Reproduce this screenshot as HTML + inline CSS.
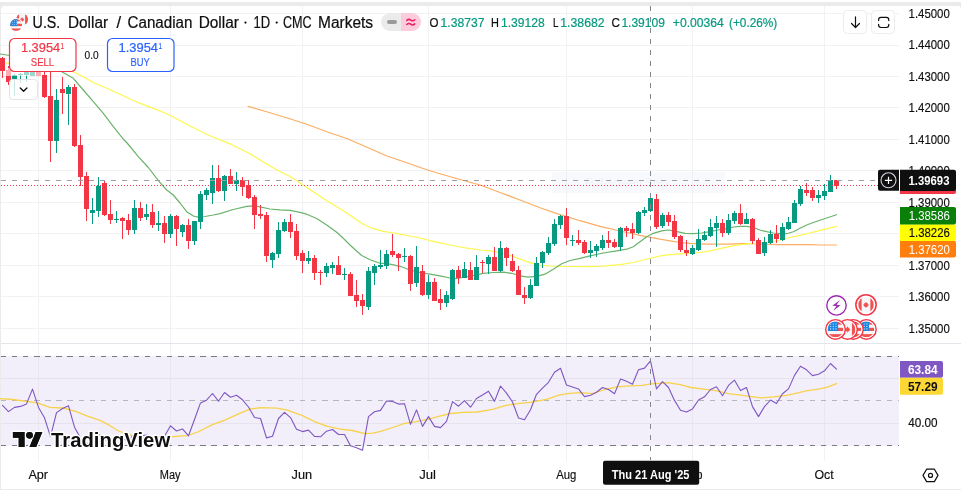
<!DOCTYPE html>
<html><head><meta charset="utf-8"><title>USDCAD chart</title>
<style>html,body{margin:0;padding:0;background:#fff;overflow:hidden}svg text{font-family:"Liberation Sans",sans-serif}</style></head>
<body>
<svg width="961" height="492" viewBox="0 0 961 492" style="display:block;will-change:transform;font-family:'Liberation Sans',sans-serif">
<rect x="0" y="0" width="961" height="492" fill="#ffffff"/>
<path d="M0 2 H961 V8.500 H960.5 Q960.5 6 958 6 H5 Q1 6 1 10 V489 H0 Z" fill="#ebebeb"/>
<rect x="0" y="489" width="961" height="1" fill="#ebebeb"/>
<g shape-rendering="crispEdges">
<rect x="1" y="356" width="898" height="90" fill="#f2eefa"/>
<rect x="38" y="6" width="1" height="337" fill="#f2f2f4"/>
<rect x="38" y="344" width="1" height="116" fill="#e9e6f0"/>
<rect x="38" y="344" width="1" height="12" fill="#f2f2f4"/>
<rect x="38" y="446" width="1" height="15" fill="#f2f2f4"/>
<rect x="170" y="6" width="1" height="337" fill="#f2f2f4"/>
<rect x="170" y="344" width="1" height="116" fill="#e9e6f0"/>
<rect x="170" y="344" width="1" height="12" fill="#f2f2f4"/>
<rect x="170" y="446" width="1" height="15" fill="#f2f2f4"/>
<rect x="302" y="6" width="1" height="337" fill="#f2f2f4"/>
<rect x="302" y="344" width="1" height="116" fill="#e9e6f0"/>
<rect x="302" y="344" width="1" height="12" fill="#f2f2f4"/>
<rect x="302" y="446" width="1" height="15" fill="#f2f2f4"/>
<rect x="428" y="6" width="1" height="337" fill="#f2f2f4"/>
<rect x="428" y="344" width="1" height="116" fill="#e9e6f0"/>
<rect x="428" y="344" width="1" height="12" fill="#f2f2f4"/>
<rect x="428" y="446" width="1" height="15" fill="#f2f2f4"/>
<rect x="566" y="6" width="1" height="337" fill="#f2f2f4"/>
<rect x="566" y="344" width="1" height="116" fill="#e9e6f0"/>
<rect x="566" y="344" width="1" height="12" fill="#f2f2f4"/>
<rect x="566" y="446" width="1" height="15" fill="#f2f2f4"/>
<rect x="692" y="6" width="1" height="337" fill="#f2f2f4"/>
<rect x="692" y="344" width="1" height="116" fill="#e9e6f0"/>
<rect x="692" y="344" width="1" height="12" fill="#f2f2f4"/>
<rect x="692" y="446" width="1" height="15" fill="#f2f2f4"/>
<rect x="824" y="6" width="1" height="337" fill="#f2f2f4"/>
<rect x="824" y="344" width="1" height="116" fill="#e9e6f0"/>
<rect x="824" y="344" width="1" height="12" fill="#f2f2f4"/>
<rect x="824" y="446" width="1" height="15" fill="#f2f2f4"/>
<rect x="1" y="13" width="898" height="1" fill="#f2f2f4"/>
<rect x="1" y="45" width="898" height="1" fill="#f2f2f4"/>
<rect x="1" y="76" width="898" height="1" fill="#f2f2f4"/>
<rect x="1" y="107" width="898" height="1" fill="#f2f2f4"/>
<rect x="1" y="139" width="898" height="1" fill="#f2f2f4"/>
<rect x="1" y="170" width="898" height="1" fill="#f2f2f4"/>
<rect x="1" y="202" width="898" height="1" fill="#f2f2f4"/>
<rect x="1" y="233" width="898" height="1" fill="#f2f2f4"/>
<rect x="1" y="265" width="898" height="1" fill="#f2f2f4"/>
<rect x="1" y="296" width="898" height="1" fill="#f2f2f4"/>
<rect x="1" y="328" width="898" height="1" fill="#f2f2f4"/>
<rect x="1" y="378" width="898" height="1" fill="#e6e2ee"/>
<rect x="1" y="423" width="898" height="1" fill="#e6e2ee"/>
<rect x="1" y="343" width="960" height="1" fill="#e4e5ea"/>
</g>
<polyline points="248.0,106.3 267.5,112.0 287.5,118.0 307.5,124.5 327.5,132.0 347.5,138.8 367.5,147.5 387.5,156.3 407.5,163.0 427.5,170.0 440.0,173.8 460.0,179.5 480.0,185.0 500.0,192.5 520.0,200.0 540.0,207.8 560.0,214.6 580.0,220.7 600.0,226.3 620.0,231.0 640.0,235.4 660.0,239.2 670.0,240.8 680.0,242.5 690.0,243.3 700.0,243.8 710.0,244.2 726.7,244.2 743.3,243.7 753.3,243.7 763.3,244.2 776.7,244.7 793.3,244.7 810.0,244.7 820.0,245.0 836.5,245.0" fill="none" stroke="#fbad63" stroke-width="1.2" stroke-linejoin="round" stroke-linecap="round" opacity="1"/>
<polyline points="5.0,63.0 30.0,66.0 60.0,69.0 73.3,71.7 83.3,76.7 93.3,82.5 106.7,88.3 120.0,94.2 133.3,100.5 146.7,105.8 160.0,110.8 172.4,116.5 190.0,126.0 208.0,135.0 230.0,143.8 250.0,153.8 270.0,166.0 280.0,171.5 290.0,176.5 303.3,185.0 313.3,191.7 326.7,200.8 333.3,204.5 343.3,210.8 353.3,217.5 363.3,224.2 373.3,228.7 383.3,231.3 393.3,233.0 400.0,234.2 410.0,236.0 420.0,238.0 430.0,240.6 440.0,242.8 450.0,245.0 460.0,247.0 470.0,248.7 480.0,250.0 490.0,250.8 498.3,252.5 506.7,254.2 513.3,256.7 520.0,259.0 526.7,261.7 533.3,263.7 540.0,265.2 550.0,266.0 560.0,266.4 570.0,266.5 586.7,266.6 603.3,266.2 620.0,264.7 633.3,262.5 643.3,260.0 653.3,257.5 663.3,255.4 673.3,254.3 680.0,253.8 690.0,253.3 700.0,252.5 710.0,250.8 720.0,248.7 730.0,246.3 740.0,244.7 750.0,243.7 760.0,243.0 770.0,242.0 780.0,240.0 790.0,237.5 800.0,235.3 810.0,233.0 820.0,230.3 836.5,226.3" fill="none" stroke="#fcf74e" stroke-width="1.25" stroke-linejoin="round" stroke-linecap="round" opacity="1"/>
<polyline points="0.0,54.0 20.0,57.0 40.0,62.0 61.8,71.8 73.3,78.3 83.3,90.0 93.3,101.7 103.3,113.3 113.3,126.7 123.3,139.2 126.7,142.5 138.3,156.7 148.3,167.5 159.2,181.7 166.7,190.0 173.3,195.0 180.0,203.0 186.7,211.7 193.3,216.0 198.3,217.2 205.0,216.5 213.3,215.0 220.0,213.6 233.3,209.5 246.7,206.3 253.3,205.9 260.0,206.8 270.0,209.0 280.0,209.9 290.0,210.3 300.0,212.3 306.7,214.2 316.7,218.5 326.7,225.0 336.7,232.3 343.0,238.0 350.0,245.0 356.0,250.5 361.7,255.5 370.0,259.8 380.0,263.2 390.0,264.2 400.0,266.3 410.0,270.0 420.0,272.5 430.0,274.2 440.0,275.8 450.0,278.0 456.0,278.4 463.3,277.5 473.3,275.5 483.3,273.3 493.3,272.5 503.3,272.2 511.7,273.3 520.0,275.8 528.3,277.2 536.7,276.3 545.0,274.2 553.3,269.2 561.7,263.7 570.0,260.5 580.0,258.4 590.0,255.8 603.3,253.0 616.7,250.8 626.7,249.2 633.3,246.7 640.0,241.7 646.7,236.7 653.3,233.3 661.7,230.8 668.3,230.0 676.0,231.3 685.0,233.3 693.3,233.7 701.7,233.0 710.0,231.7 718.3,230.0 726.7,228.7 733.3,227.0 740.0,226.3 746.7,226.3 753.3,227.5 760.0,230.0 766.7,231.7 773.3,233.0 780.0,233.7 786.7,233.7 793.3,231.7 800.0,228.3 806.7,225.0 813.3,222.5 820.0,220.3 836.5,214.7" fill="none" stroke="#6ab36a" stroke-width="1.2" stroke-linejoin="round" stroke-linecap="round" opacity="1"/>
<g shape-rendering="crispEdges">
<rect x="2" y="57" width="1" height="21" fill="#f23645"/>
<rect x="0" y="58" width="5" height="13" fill="#f23645"/>
<rect x="8" y="66" width="1" height="19" fill="#f23645"/>
<rect x="6" y="70" width="5" height="12" fill="#f23645"/>
<rect x="14" y="74" width="1" height="22" fill="#089981"/>
<rect x="12" y="75" width="5" height="4" fill="#089981"/>
<rect x="20" y="73" width="1" height="10" fill="#089981"/>
<rect x="18" y="74" width="5" height="1" fill="#089981"/>
<rect x="26" y="72" width="1" height="10" fill="#089981"/>
<rect x="24" y="72" width="5" height="3" fill="#089981"/>
<rect x="32" y="72" width="1" height="4" fill="#089981"/>
<rect x="30" y="72" width="5" height="4" fill="#089981"/>
<rect x="38" y="72" width="1" height="4" fill="#f23645"/>
<rect x="36" y="72" width="5" height="4" fill="#f23645"/>
<rect x="44" y="72" width="1" height="26" fill="#f23645"/>
<rect x="42" y="75" width="5" height="22" fill="#f23645"/>
<rect x="50" y="72" width="1" height="90" fill="#f23645"/>
<rect x="48" y="96" width="5" height="45" fill="#f23645"/>
<rect x="56" y="89" width="1" height="64" fill="#089981"/>
<rect x="54" y="100" width="5" height="41" fill="#089981"/>
<rect x="62" y="77" width="1" height="37" fill="#f23645"/>
<rect x="60" y="89" width="5" height="4" fill="#f23645"/>
<rect x="68" y="85" width="1" height="40" fill="#089981"/>
<rect x="66" y="87" width="5" height="7" fill="#089981"/>
<rect x="74" y="84" width="1" height="63" fill="#f23645"/>
<rect x="72" y="87" width="5" height="59" fill="#f23645"/>
<rect x="80" y="135" width="1" height="51" fill="#f23645"/>
<rect x="78" y="145" width="5" height="32" fill="#f23645"/>
<rect x="86" y="172" width="1" height="49" fill="#f23645"/>
<rect x="84" y="176" width="5" height="33" fill="#f23645"/>
<rect x="92" y="198" width="1" height="26" fill="#089981"/>
<rect x="90" y="210" width="5" height="3" fill="#089981"/>
<rect x="98" y="177" width="1" height="40" fill="#089981"/>
<rect x="96" y="186" width="5" height="25" fill="#089981"/>
<rect x="104" y="181" width="1" height="35" fill="#f23645"/>
<rect x="102" y="183" width="5" height="32" fill="#f23645"/>
<rect x="110" y="200" width="1" height="24" fill="#f23645"/>
<rect x="108" y="214" width="5" height="6" fill="#f23645"/>
<rect x="116" y="211" width="1" height="12" fill="#089981"/>
<rect x="114" y="219" width="5" height="1" fill="#089981"/>
<rect x="122" y="217" width="1" height="22" fill="#f23645"/>
<rect x="120" y="218" width="5" height="3" fill="#f23645"/>
<rect x="128" y="214" width="1" height="21" fill="#f23645"/>
<rect x="126" y="220" width="5" height="10" fill="#f23645"/>
<rect x="134" y="200" width="1" height="34" fill="#089981"/>
<rect x="132" y="208" width="5" height="22" fill="#089981"/>
<rect x="140" y="202" width="1" height="19" fill="#f23645"/>
<rect x="138" y="208" width="5" height="10" fill="#f23645"/>
<rect x="146" y="204" width="1" height="16" fill="#089981"/>
<rect x="144" y="214" width="5" height="3" fill="#089981"/>
<rect x="152" y="204" width="1" height="24" fill="#f23645"/>
<rect x="150" y="212" width="5" height="13" fill="#f23645"/>
<rect x="158" y="211" width="1" height="20" fill="#089981"/>
<rect x="156" y="223" width="5" height="2" fill="#089981"/>
<rect x="164" y="216" width="1" height="27" fill="#f23645"/>
<rect x="162" y="223" width="5" height="11" fill="#f23645"/>
<rect x="170" y="214" width="1" height="24" fill="#089981"/>
<rect x="168" y="216" width="5" height="18" fill="#089981"/>
<rect x="176" y="215" width="1" height="31" fill="#f23645"/>
<rect x="174" y="216" width="5" height="13" fill="#f23645"/>
<rect x="182" y="224" width="1" height="13" fill="#089981"/>
<rect x="180" y="225" width="5" height="7" fill="#089981"/>
<rect x="188" y="219" width="1" height="30" fill="#f23645"/>
<rect x="186" y="225" width="5" height="16" fill="#f23645"/>
<rect x="194" y="221" width="1" height="24" fill="#089981"/>
<rect x="192" y="221" width="5" height="20" fill="#089981"/>
<rect x="200" y="191" width="1" height="38" fill="#089981"/>
<rect x="198" y="194" width="5" height="28" fill="#089981"/>
<rect x="206" y="188" width="1" height="12" fill="#089981"/>
<rect x="204" y="190" width="5" height="5" fill="#089981"/>
<rect x="212" y="165" width="1" height="39" fill="#089981"/>
<rect x="210" y="178" width="5" height="15" fill="#089981"/>
<rect x="218" y="165" width="1" height="27" fill="#f23645"/>
<rect x="216" y="178" width="5" height="13" fill="#f23645"/>
<rect x="224" y="175" width="1" height="26" fill="#089981"/>
<rect x="222" y="176" width="5" height="15" fill="#089981"/>
<rect x="230" y="169" width="1" height="15" fill="#f23645"/>
<rect x="228" y="176" width="5" height="8" fill="#f23645"/>
<rect x="236" y="172" width="1" height="19" fill="#089981"/>
<rect x="234" y="180" width="5" height="4" fill="#089981"/>
<rect x="242" y="177" width="1" height="19" fill="#f23645"/>
<rect x="240" y="180" width="5" height="7" fill="#f23645"/>
<rect x="248" y="180" width="1" height="19" fill="#f23645"/>
<rect x="246" y="185" width="5" height="13" fill="#f23645"/>
<rect x="254" y="195" width="1" height="34" fill="#f23645"/>
<rect x="252" y="197" width="5" height="18" fill="#f23645"/>
<rect x="260" y="205" width="1" height="14" fill="#f23645"/>
<rect x="258" y="214" width="5" height="2" fill="#f23645"/>
<rect x="266" y="212" width="1" height="50" fill="#f23645"/>
<rect x="264" y="215" width="5" height="41" fill="#f23645"/>
<rect x="272" y="252" width="1" height="16" fill="#089981"/>
<rect x="270" y="253" width="5" height="7" fill="#089981"/>
<rect x="278" y="222" width="1" height="36" fill="#089981"/>
<rect x="276" y="230" width="5" height="24" fill="#089981"/>
<rect x="284" y="219" width="1" height="13" fill="#089981"/>
<rect x="282" y="222" width="5" height="9" fill="#089981"/>
<rect x="290" y="214" width="1" height="24" fill="#f23645"/>
<rect x="288" y="222" width="5" height="10" fill="#f23645"/>
<rect x="296" y="224" width="1" height="36" fill="#f23645"/>
<rect x="294" y="231" width="5" height="25" fill="#f23645"/>
<rect x="302" y="250" width="1" height="23" fill="#f23645"/>
<rect x="300" y="253" width="5" height="8" fill="#f23645"/>
<rect x="308" y="251" width="1" height="13" fill="#089981"/>
<rect x="306" y="258" width="5" height="3" fill="#089981"/>
<rect x="314" y="255" width="1" height="25" fill="#f23645"/>
<rect x="312" y="258" width="5" height="15" fill="#f23645"/>
<rect x="320" y="270" width="1" height="15" fill="#f23645"/>
<rect x="318" y="272" width="5" height="1" fill="#f23645"/>
<rect x="326" y="263" width="1" height="14" fill="#089981"/>
<rect x="324" y="266" width="5" height="7" fill="#089981"/>
<rect x="332" y="262" width="1" height="12" fill="#089981"/>
<rect x="330" y="265" width="5" height="3" fill="#089981"/>
<rect x="338" y="256" width="1" height="19" fill="#f23645"/>
<rect x="336" y="265" width="5" height="10" fill="#f23645"/>
<rect x="344" y="268" width="1" height="12" fill="#089981"/>
<rect x="342" y="274" width="5" height="1" fill="#089981"/>
<rect x="350" y="272" width="1" height="24" fill="#f23645"/>
<rect x="348" y="274" width="5" height="22" fill="#f23645"/>
<rect x="356" y="280" width="1" height="27" fill="#f23645"/>
<rect x="354" y="295" width="5" height="6" fill="#f23645"/>
<rect x="362" y="294" width="1" height="21" fill="#f23645"/>
<rect x="360" y="300" width="5" height="6" fill="#f23645"/>
<rect x="368" y="267" width="1" height="43" fill="#089981"/>
<rect x="366" y="271" width="5" height="36" fill="#089981"/>
<rect x="374" y="264" width="1" height="21" fill="#089981"/>
<rect x="372" y="266" width="5" height="7" fill="#089981"/>
<rect x="380" y="250" width="1" height="19" fill="#089981"/>
<rect x="378" y="265" width="5" height="2" fill="#089981"/>
<rect x="386" y="250" width="1" height="19" fill="#089981"/>
<rect x="384" y="254" width="5" height="12" fill="#089981"/>
<rect x="392" y="234" width="1" height="23" fill="#f23645"/>
<rect x="390" y="251" width="5" height="4" fill="#f23645"/>
<rect x="398" y="253" width="1" height="18" fill="#f23645"/>
<rect x="396" y="254" width="5" height="4" fill="#f23645"/>
<rect x="404" y="248" width="1" height="14" fill="#089981"/>
<rect x="402" y="256" width="5" height="1" fill="#089981"/>
<rect x="410" y="255" width="1" height="36" fill="#f23645"/>
<rect x="408" y="256" width="5" height="28" fill="#f23645"/>
<rect x="416" y="246" width="1" height="41" fill="#089981"/>
<rect x="414" y="267" width="5" height="16" fill="#089981"/>
<rect x="422" y="265" width="1" height="31" fill="#f23645"/>
<rect x="420" y="271" width="5" height="24" fill="#f23645"/>
<rect x="428" y="275" width="1" height="24" fill="#089981"/>
<rect x="426" y="282" width="5" height="13" fill="#089981"/>
<rect x="434" y="278" width="1" height="23" fill="#f23645"/>
<rect x="432" y="282" width="5" height="19" fill="#f23645"/>
<rect x="440" y="289" width="1" height="21" fill="#f23645"/>
<rect x="438" y="299" width="5" height="4" fill="#f23645"/>
<rect x="446" y="291" width="1" height="16" fill="#089981"/>
<rect x="444" y="295" width="5" height="8" fill="#089981"/>
<rect x="452" y="269" width="1" height="31" fill="#089981"/>
<rect x="450" y="270" width="5" height="29" fill="#089981"/>
<rect x="458" y="266" width="1" height="18" fill="#f23645"/>
<rect x="456" y="270" width="5" height="8" fill="#f23645"/>
<rect x="464" y="262" width="1" height="16" fill="#089981"/>
<rect x="462" y="269" width="5" height="9" fill="#089981"/>
<rect x="470" y="262" width="1" height="18" fill="#f23645"/>
<rect x="468" y="270" width="5" height="10" fill="#f23645"/>
<rect x="476" y="255" width="1" height="25" fill="#089981"/>
<rect x="474" y="267" width="5" height="13" fill="#089981"/>
<rect x="482" y="260" width="1" height="13" fill="#f23645"/>
<rect x="480" y="262" width="5" height="1" fill="#f23645"/>
<rect x="488" y="255" width="1" height="19" fill="#089981"/>
<rect x="486" y="257" width="5" height="7" fill="#089981"/>
<rect x="494" y="247" width="1" height="24" fill="#f23645"/>
<rect x="492" y="257" width="5" height="14" fill="#f23645"/>
<rect x="500" y="241" width="1" height="31" fill="#089981"/>
<rect x="498" y="248" width="5" height="23" fill="#089981"/>
<rect x="506" y="247" width="1" height="19" fill="#f23645"/>
<rect x="504" y="248" width="5" height="10" fill="#f23645"/>
<rect x="512" y="254" width="1" height="18" fill="#f23645"/>
<rect x="510" y="261" width="5" height="10" fill="#f23645"/>
<rect x="518" y="266" width="1" height="29" fill="#f23645"/>
<rect x="516" y="270" width="5" height="25" fill="#f23645"/>
<rect x="524" y="287" width="1" height="17" fill="#f23645"/>
<rect x="522" y="295" width="5" height="3" fill="#f23645"/>
<rect x="530" y="279" width="1" height="20" fill="#089981"/>
<rect x="528" y="285" width="5" height="13" fill="#089981"/>
<rect x="536" y="257" width="1" height="29" fill="#089981"/>
<rect x="534" y="263" width="5" height="23" fill="#089981"/>
<rect x="542" y="251" width="1" height="17" fill="#089981"/>
<rect x="540" y="252" width="5" height="11" fill="#089981"/>
<rect x="548" y="237" width="1" height="18" fill="#089981"/>
<rect x="546" y="243" width="5" height="10" fill="#089981"/>
<rect x="554" y="219" width="1" height="27" fill="#089981"/>
<rect x="552" y="224" width="5" height="20" fill="#089981"/>
<rect x="560" y="215" width="1" height="14" fill="#089981"/>
<rect x="558" y="216" width="5" height="9" fill="#089981"/>
<rect x="566" y="208" width="1" height="37" fill="#f23645"/>
<rect x="564" y="216" width="5" height="22" fill="#f23645"/>
<rect x="572" y="235" width="1" height="11" fill="#089981"/>
<rect x="570" y="240" width="5" height="1" fill="#089981"/>
<rect x="578" y="230" width="1" height="15" fill="#f23645"/>
<rect x="576" y="240" width="5" height="3" fill="#f23645"/>
<rect x="584" y="240" width="1" height="14" fill="#f23645"/>
<rect x="582" y="242" width="5" height="11" fill="#f23645"/>
<rect x="590" y="241" width="1" height="17" fill="#089981"/>
<rect x="588" y="250" width="5" height="3" fill="#089981"/>
<rect x="596" y="244" width="1" height="13" fill="#089981"/>
<rect x="594" y="246" width="5" height="5" fill="#089981"/>
<rect x="602" y="235" width="1" height="15" fill="#089981"/>
<rect x="600" y="240" width="5" height="8" fill="#089981"/>
<rect x="608" y="231" width="1" height="17" fill="#f23645"/>
<rect x="606" y="240" width="5" height="3" fill="#f23645"/>
<rect x="614" y="239" width="1" height="9" fill="#f23645"/>
<rect x="612" y="242" width="5" height="5" fill="#f23645"/>
<rect x="620" y="227" width="1" height="24" fill="#089981"/>
<rect x="618" y="228" width="5" height="19" fill="#089981"/>
<rect x="626" y="226" width="1" height="11" fill="#f23645"/>
<rect x="624" y="228" width="5" height="3" fill="#f23645"/>
<rect x="632" y="223" width="1" height="16" fill="#f23645"/>
<rect x="630" y="229" width="5" height="4" fill="#f23645"/>
<rect x="638" y="211" width="1" height="23" fill="#089981"/>
<rect x="636" y="212" width="5" height="21" fill="#089981"/>
<rect x="644" y="207" width="1" height="9" fill="#089981"/>
<rect x="642" y="210" width="5" height="3" fill="#089981"/>
<rect x="650" y="193" width="1" height="19" fill="#089981"/>
<rect x="648" y="198" width="5" height="13" fill="#089981"/>
<rect x="656" y="194" width="1" height="35" fill="#f23645"/>
<rect x="654" y="199" width="5" height="28" fill="#f23645"/>
<rect x="662" y="213" width="1" height="15" fill="#089981"/>
<rect x="660" y="215" width="5" height="11" fill="#089981"/>
<rect x="668" y="212" width="1" height="14" fill="#f23645"/>
<rect x="666" y="215" width="5" height="7" fill="#f23645"/>
<rect x="674" y="215" width="1" height="24" fill="#f23645"/>
<rect x="672" y="221" width="5" height="16" fill="#f23645"/>
<rect x="680" y="235" width="1" height="17" fill="#f23645"/>
<rect x="678" y="236" width="5" height="14" fill="#f23645"/>
<rect x="686" y="240" width="1" height="16" fill="#f23645"/>
<rect x="684" y="250" width="5" height="3" fill="#f23645"/>
<rect x="692" y="245" width="1" height="10" fill="#089981"/>
<rect x="690" y="248" width="5" height="6" fill="#089981"/>
<rect x="698" y="229" width="1" height="22" fill="#089981"/>
<rect x="696" y="239" width="5" height="11" fill="#089981"/>
<rect x="704" y="231" width="1" height="10" fill="#089981"/>
<rect x="702" y="235" width="5" height="5" fill="#089981"/>
<rect x="710" y="219" width="1" height="18" fill="#089981"/>
<rect x="708" y="227" width="5" height="9" fill="#089981"/>
<rect x="716" y="216" width="1" height="31" fill="#089981"/>
<rect x="714" y="223" width="5" height="5" fill="#089981"/>
<rect x="722" y="219" width="1" height="18" fill="#f23645"/>
<rect x="720" y="223" width="5" height="10" fill="#f23645"/>
<rect x="728" y="214" width="1" height="21" fill="#089981"/>
<rect x="726" y="220" width="5" height="13" fill="#089981"/>
<rect x="734" y="211" width="1" height="13" fill="#089981"/>
<rect x="732" y="213" width="5" height="8" fill="#089981"/>
<rect x="740" y="204" width="1" height="21" fill="#f23645"/>
<rect x="738" y="213" width="5" height="11" fill="#f23645"/>
<rect x="746" y="213" width="1" height="11" fill="#089981"/>
<rect x="744" y="219" width="5" height="5" fill="#089981"/>
<rect x="752" y="218" width="1" height="26" fill="#f23645"/>
<rect x="750" y="219" width="5" height="22" fill="#f23645"/>
<rect x="758" y="238" width="1" height="16" fill="#f23645"/>
<rect x="756" y="240" width="5" height="14" fill="#f23645"/>
<rect x="764" y="237" width="1" height="19" fill="#089981"/>
<rect x="762" y="242" width="5" height="11" fill="#089981"/>
<rect x="770" y="230" width="1" height="14" fill="#089981"/>
<rect x="768" y="234" width="5" height="9" fill="#089981"/>
<rect x="776" y="225" width="1" height="18" fill="#f23645"/>
<rect x="774" y="234" width="5" height="5" fill="#f23645"/>
<rect x="782" y="223" width="1" height="18" fill="#089981"/>
<rect x="780" y="227" width="5" height="13" fill="#089981"/>
<rect x="788" y="217" width="1" height="13" fill="#089981"/>
<rect x="786" y="222" width="5" height="7" fill="#089981"/>
<rect x="794" y="200" width="1" height="23" fill="#089981"/>
<rect x="792" y="203" width="5" height="20" fill="#089981"/>
<rect x="800" y="186" width="1" height="20" fill="#089981"/>
<rect x="798" y="189" width="5" height="15" fill="#089981"/>
<rect x="806" y="183" width="1" height="13" fill="#f23645"/>
<rect x="804" y="190" width="5" height="3" fill="#f23645"/>
<rect x="812" y="187" width="1" height="14" fill="#f23645"/>
<rect x="810" y="190" width="5" height="8" fill="#f23645"/>
<rect x="818" y="190" width="1" height="13" fill="#089981"/>
<rect x="816" y="195" width="5" height="3" fill="#089981"/>
<rect x="824" y="184" width="1" height="16" fill="#089981"/>
<rect x="822" y="191" width="5" height="5" fill="#089981"/>
<rect x="830" y="175" width="1" height="17" fill="#089981"/>
<rect x="828" y="180" width="5" height="12" fill="#089981"/>
<rect x="836" y="180" width="1" height="9" fill="#f23645"/>
<rect x="834" y="180" width="5" height="6" fill="#f23645"/>
</g>
<rect x="552" y="172" width="173" height="21" fill="#e4e9f5" opacity="0.28"/>
<text x="585" y="187" font-size="12.5" fill="#eff1f6" textLength="83" lengthAdjust="spacingAndGlyphs">Full-screen Snip</text>
<g shape-rendering="crispEdges">
<line x1="1" y1="356.5" x2="899" y2="356.5" stroke="#787b86" stroke-width="1" stroke-dasharray="5.3 5.777"/>
<line x1="1" y1="400.5" x2="899" y2="400.5" stroke="#b4b5bd" stroke-width="1" stroke-dasharray="5.3 5.777"/>
<line x1="1" y1="445.5" x2="899" y2="445.5" stroke="#787b86" stroke-width="1" stroke-dasharray="5.3 5.777"/>
</g>
<polyline points="0.0,398.7 12.5,399.5 25.0,401.2 37.5,402.9 50.0,407.4 62.4,408.0 75.0,411.2 87.4,416.2 100.0,420.4 108.3,424.7 118.7,431.0 130.0,435.0 145.0,437.5 160.0,437.5 172.8,436.6 187.4,435.6 197.8,432.0 212.4,424.7 224.9,420.2 237.4,414.3 249.8,409.1 260.2,407.7 276.9,408.1 287.3,410.2 302.5,415.6 315.0,421.8 327.5,426.4 340.0,429.1 352.4,430.5 364.9,433.7 373.2,433.2 381.6,431.2 394.0,427.0 404.5,423.3 414.9,421.8 427.4,419.3 439.8,416.2 450.2,413.5 462.7,412.4 477.3,412.0 492.5,409.3 505.0,405.6 517.5,403.7 530.0,402.4 546.6,399.3 559.1,395.2 567.4,393.7 579.9,392.7 592.4,393.7 604.9,389.5 617.4,386.8 629.8,385.8 642.3,385.4 650.7,383.9 659.0,383.3 667.3,382.7 680.4,384.6 690.8,387.5 703.3,389.1 715.8,390.6 728.3,393.7 740.8,395.2 753.2,396.8 761.6,397.9 774.0,396.8 786.5,395.4 799.0,392.7 807.4,390.6 819.8,388.9 828.2,386.8 836.5,383.7" fill="none" stroke="#f7d24a" stroke-width="1.3" stroke-linejoin="round" stroke-linecap="round" opacity="1"/>
<polyline points="2.5,405.4 8.5,411.6 14.5,407.4 20.5,406.4 26.5,403.9 32.5,389.1 38.5,407.4 44.5,417.8 50.5,436.6 56.5,412.6 62.5,408.5 68.5,405.8 74.5,427.2 80.5,438.0 86.5,444.0 92.5,441.0 98.5,434.0 104.5,440.0 110.5,439.0 116.5,437.0 122.5,439.0 128.5,441.0 134.5,433.0 140.5,436.0 146.5,435.0 152.5,438.0 158.5,437.0 164.5,436.2 170.5,425.8 176.5,431.0 182.5,428.9 188.5,435.8 194.5,419.5 200.5,402.9 206.5,400.2 212.5,393.5 218.5,401.2 224.5,392.5 230.5,397.3 236.5,395.2 242.5,399.8 248.5,407.0 254.5,417.5 260.5,418.5 266.5,437.9 272.5,436.2 278.5,418.5 284.5,412.3 290.5,417.6 296.5,429.2 302.5,431.6 308.5,430.1 314.5,436.4 320.5,436.8 326.5,431.2 332.5,429.5 338.5,434.5 344.5,434.5 350.5,445.7 356.5,447.8 362.5,450.3 368.5,416.6 374.5,411.8 380.5,410.4 386.5,401.0 392.5,401.4 398.5,404.1 404.5,403.7 410.5,424.3 416.5,409.9 422.5,426.4 428.5,416.6 434.5,426.4 440.5,427.6 446.5,421.4 452.5,401.6 458.5,406.2 464.5,400.6 470.5,407.2 476.5,398.5 482.5,395.0 488.5,391.2 494.5,401.4 500.5,386.0 506.5,393.1 512.5,402.0 518.5,418.0 524.5,419.7 530.5,409.7 536.5,394.3 542.5,388.1 548.5,382.3 554.5,372.3 560.5,368.3 566.5,385.0 572.5,387.0 578.5,388.9 584.5,396.6 590.5,395.2 596.5,392.2 602.5,387.5 608.5,389.5 614.5,393.7 620.5,379.1 626.5,381.2 632.5,384.3 638.5,369.8 644.5,368.1 650.5,360.8 656.5,388.9 662.5,381.6 668.5,387.5 674.5,400.4 680.5,410.2 686.5,412.0 692.5,408.9 698.5,400.0 704.5,396.8 710.5,389.5 716.5,386.8 722.5,395.8 728.5,385.4 734.5,380.2 740.5,390.6 746.5,387.5 752.5,406.6 758.5,416.6 764.5,406.6 770.5,400.0 776.5,403.5 782.5,393.7 788.5,388.9 794.5,375.4 800.5,366.2 806.5,369.8 812.5,375.6 818.5,374.3 824.5,370.8 830.5,363.5 836.5,369.2" fill="none" stroke="#7e57c2" stroke-width="1.1" stroke-linejoin="round" stroke-linecap="round" opacity="1"/>
<g shape-rendering="crispEdges">
<line x1="1" y1="185.5" x2="878" y2="185.5" stroke="#f23645" stroke-width="1" stroke-dasharray="1 2"/>
<line x1="1" y1="180.5" x2="878" y2="180.5" stroke="#9d9fa6" stroke-width="1" stroke-dasharray="5 6"/>
<line x1="650.5" y1="6" x2="650.5" y2="460" stroke="#85878f" stroke-width="1" stroke-dasharray="5 6"/>
</g>
<rect x="6" y="68" width="36" height="8" fill="#ffffff" opacity="0.6"/>
<rect x="9.5" y="79.5" width="28" height="20" rx="3" fill="#ffffff" fill-opacity="0.8" stroke="#e4e4e8" stroke-width="1"/>
<path d="M20.3 88.1 L23.6 91.2 L26.9 88.1" fill="none" stroke="#0f0f0f" stroke-width="1.4" stroke-linecap="round" stroke-linejoin="round"/>
<clipPath id="cf1"><circle cx="22.1" cy="19.5" r="6"/></clipPath>
<g clip-path="url(#cf1)"><rect x="16.1" y="13.5" width="12" height="12" fill="#f5f6fa"/><rect x="16.10" y="13.5" width="3.00" height="12" fill="#ef5350"/><rect x="25.10" y="13.5" width="3.00" height="12" fill="#ef5350"/><path d="M22.10 17.10 l0.77 1.32 l0.79 -0.43 l-0.24 1.32 l1.08 0.05 l-1.49 1.80 l-0.72 0 l0 0.72 l-0.38 0 l0 -0.72 l-0.72 0 l-1.49 -1.80 l1.08 -0.05 l-0.24 -1.32 l0.79 0.43 Z" fill="#ef5350"/></g>
<circle cx="16.1" cy="24.9" r="7" fill="#ffffff"/>
<clipPath id="uf1"><circle cx="16.1" cy="24.9" r="6"/></clipPath>
<g clip-path="url(#uf1)"><rect x="10.100000000000001" y="18.9" width="12" height="12" fill="#f5f6fa"/><rect x="10.100000000000001" y="18.90" width="12" height="2.40" fill="#ef5350"/><rect x="10.100000000000001" y="23.70" width="12" height="2.40" fill="#ef5350"/><rect x="10.100000000000001" y="28.50" width="12" height="2.40" fill="#ef5350"/><rect x="10.100000000000001" y="18.9" width="6.96" height="7.20" fill="#1e88e5"/><circle cx="12.38" cy="20.82" r="0.45" fill="#e3f2fd"/><circle cx="12.38" cy="22.69" r="0.45" fill="#e3f2fd"/><circle cx="12.38" cy="24.56" r="0.45" fill="#e3f2fd"/><circle cx="14.42" cy="20.82" r="0.45" fill="#e3f2fd"/><circle cx="14.42" cy="22.69" r="0.45" fill="#e3f2fd"/><circle cx="14.42" cy="24.56" r="0.45" fill="#e3f2fd"/><circle cx="16.46" cy="20.82" r="0.45" fill="#e3f2fd"/><circle cx="16.46" cy="22.69" r="0.45" fill="#e3f2fd"/><circle cx="16.46" cy="24.56" r="0.45" fill="#e3f2fd"/></g>
<text x="32.6" y="28.2" font-size="16" fill="#0f0f0f" font-weight="normal" text-anchor="start" textLength="27.7" lengthAdjust="spacingAndGlyphs"  stroke="#0f0f0f" stroke-width="0.22">U.S.</text>
<text x="68" y="28.2" font-size="16" fill="#0f0f0f" font-weight="normal" text-anchor="start" textLength="40.1" lengthAdjust="spacingAndGlyphs"  stroke="#0f0f0f" stroke-width="0.22">Dollar</text>
<text x="116.4" y="28.2" font-size="16" fill="#0f0f0f" font-weight="normal" text-anchor="start" textLength="4.6" lengthAdjust="spacingAndGlyphs"  stroke="#0f0f0f" stroke-width="0.22">/</text>
<text x="127.5" y="28.2" font-size="16" fill="#0f0f0f" font-weight="normal" text-anchor="start" textLength="64.9" lengthAdjust="spacingAndGlyphs"  stroke="#0f0f0f" stroke-width="0.22">Canadian</text>
<text x="198.7" y="28.2" font-size="16" fill="#0f0f0f" font-weight="normal" text-anchor="start" textLength="40.2" lengthAdjust="spacingAndGlyphs"  stroke="#0f0f0f" stroke-width="0.22">Dollar</text>
<circle cx="245.5" cy="22.6" r="1.1" fill="#0f0f0f"/>
<text x="253.5" y="28.2" font-size="16" fill="#0f0f0f" font-weight="normal" text-anchor="start" textLength="16.6" lengthAdjust="spacingAndGlyphs"  stroke="#0f0f0f" stroke-width="0.22">1D</text>
<circle cx="276.7" cy="22.6" r="1.1" fill="#0f0f0f"/>
<text x="283" y="28.2" font-size="16" fill="#0f0f0f" font-weight="normal" text-anchor="start" textLength="28.7" lengthAdjust="spacingAndGlyphs"  stroke="#0f0f0f" stroke-width="0.22">CMC</text>
<text x="318" y="28.2" font-size="16" fill="#0f0f0f" font-weight="normal" text-anchor="start" textLength="55.1" lengthAdjust="spacingAndGlyphs"  stroke="#0f0f0f" stroke-width="0.22">Markets</text>
<clipPath id="pill"><rect x="381" y="13" width="40" height="18" rx="9"/></clipPath>
<g clip-path="url(#pill)"><rect x="381" y="13" width="20" height="18" fill="#ebebeb"/><rect x="401" y="13" width="20" height="18" fill="#fccbdc"/></g>
<rect x="387" y="20" width="10" height="4" rx="2" fill="#9a9a9a"/>
<path d="M406.8 20.4 q2 -1.900 4 -0.3 t4 -0.3 M406.8 24.5 q2 -1.900 4 -0.3 t4 -0.3" fill="none" stroke="#e91e63" stroke-width="1.5" stroke-linecap="round"/>
<text x="429.6" y="27.1" font-size="13" fill="#0f0f0f" font-weight="normal" text-anchor="start" textLength="9.0" lengthAdjust="spacingAndGlyphs"  stroke="#0f0f0f" stroke-width="0.22">O</text>
<text x="440.6" y="27.1" font-size="13" fill="#089981" font-weight="normal" text-anchor="start" textLength="43.8" lengthAdjust="spacingAndGlyphs"  stroke="#089981" stroke-width="0.22">1.38737</text>
<text x="491" y="27.1" font-size="13" fill="#0f0f0f" font-weight="normal" text-anchor="start" textLength="7.9" lengthAdjust="spacingAndGlyphs"  stroke="#0f0f0f" stroke-width="0.22">H</text>
<text x="501" y="27.1" font-size="13" fill="#089981" font-weight="normal" text-anchor="start" textLength="43.7" lengthAdjust="spacingAndGlyphs"  stroke="#089981" stroke-width="0.22">1.39128</text>
<text x="553" y="27.1" font-size="13" fill="#0f0f0f" font-weight="normal" text-anchor="start" textLength="5.4" lengthAdjust="spacingAndGlyphs"  stroke="#0f0f0f" stroke-width="0.22">L</text>
<text x="560.3" y="27.1" font-size="13" fill="#089981" font-weight="normal" text-anchor="start" textLength="44.3" lengthAdjust="spacingAndGlyphs"  stroke="#089981" stroke-width="0.22">1.38682</text>
<text x="611.4" y="27.1" font-size="13" fill="#0f0f0f" font-weight="normal" text-anchor="start" textLength="8.4" lengthAdjust="spacingAndGlyphs"  stroke="#0f0f0f" stroke-width="0.22">C</text>
<text x="621.4" y="27.1" font-size="13" fill="#089981" font-weight="normal" text-anchor="start" textLength="43.5" lengthAdjust="spacingAndGlyphs"  stroke="#089981" stroke-width="0.22">1.39109</text>
<text x="672.8" y="27.1" font-size="13" fill="#089981" font-weight="normal" text-anchor="start" textLength="51.0" lengthAdjust="spacingAndGlyphs"  stroke="#089981" stroke-width="0.22">+0.00364</text>
<text x="729" y="27.1" font-size="13" fill="#089981" font-weight="normal" text-anchor="start" textLength="48.3" lengthAdjust="spacingAndGlyphs"  stroke="#089981" stroke-width="0.22">(+0.26%)</text>
<rect x="9.5" y="38.5" width="66.5" height="33" rx="5" fill="#ffffff" stroke="#f23645" stroke-width="1.2"/>
<text x="20.9" y="52.2" font-size="13" fill="#f23645" font-weight="normal" text-anchor="start" textLength="39.3" lengthAdjust="spacingAndGlyphs"  stroke="#f23645" stroke-width="0.22">1.3954</text>
<text x="60.6" y="49.0" font-size="9" fill="#f23645" font-weight="normal" text-anchor="start" textLength="3.6" lengthAdjust="spacingAndGlyphs"  stroke="#f23645" stroke-width="0.15">1</text>
<text x="30.8" y="65.5" font-size="11" fill="#f23645" font-weight="normal" text-anchor="start" textLength="23.4" lengthAdjust="spacingAndGlyphs"  stroke="#f23645" stroke-width="0.15">SELL</text>
<text x="84.5" y="58.6" font-size="11" fill="#0f0f0f" font-weight="normal" text-anchor="start" textLength="14.1" lengthAdjust="spacingAndGlyphs"  stroke="#0f0f0f" stroke-width="0.15">0.0</text>
<rect x="107.5" y="38.5" width="66.5" height="33" rx="5" fill="#ffffff" stroke="#2962ff" stroke-width="1.2"/>
<text x="118.6" y="52.2" font-size="13" fill="#2962ff" font-weight="normal" text-anchor="start" textLength="39.4" lengthAdjust="spacingAndGlyphs"  stroke="#2962ff" stroke-width="0.22">1.3954</text>
<text x="158.4" y="49.0" font-size="9" fill="#2962ff" font-weight="normal" text-anchor="start" textLength="3.6" lengthAdjust="spacingAndGlyphs"  stroke="#2962ff" stroke-width="0.15">1</text>
<text x="130.4" y="65.5" font-size="11" fill="#2962ff" font-weight="normal" text-anchor="start" textLength="19.3" lengthAdjust="spacingAndGlyphs"  stroke="#2962ff" stroke-width="0.15">BUY</text>
<rect x="843.5" y="10.5" width="23" height="23" rx="4" fill="#ffffff" stroke="#ececee" stroke-width="1"/>
<rect x="871.5" y="10.5" width="23" height="23" rx="4" fill="#ffffff" stroke="#ececee" stroke-width="1"/>
<path d="M855.5 16.8 V27.3 M851.5 23.5 L855.5 27.5 L859.5 23.5" fill="none" stroke="#0f0f0f" stroke-width="1.2" stroke-linecap="round" stroke-linejoin="round"/>
<path d="M878.6 20.6 V19.8 Q878.6 17.4 881 17.4 H886.4 Q888.8 17.4 888.8 19.800 V20.6 M878.6 24.3 V25.1 Q878.6 27.5 881 27.5 H886.4 Q888.8 27.5 888.8 25.1 V24.3" fill="none" stroke="#0f0f0f" stroke-width="1.2" stroke-linecap="round"/>
<text x="908.6" y="17.7" font-size="12" fill="#0f0f0f" font-weight="normal" text-anchor="start" textLength="41.2" lengthAdjust="spacingAndGlyphs"  stroke="#0f0f0f" stroke-width="0.15">1.45000</text>
<text x="908.6" y="49.2" font-size="12" fill="#0f0f0f" font-weight="normal" text-anchor="start" textLength="41.2" lengthAdjust="spacingAndGlyphs"  stroke="#0f0f0f" stroke-width="0.15">1.44000</text>
<text x="908.6" y="80.7" font-size="12" fill="#0f0f0f" font-weight="normal" text-anchor="start" textLength="41.2" lengthAdjust="spacingAndGlyphs"  stroke="#0f0f0f" stroke-width="0.15">1.43000</text>
<text x="908.6" y="112.2" font-size="12" fill="#0f0f0f" font-weight="normal" text-anchor="start" textLength="41.2" lengthAdjust="spacingAndGlyphs"  stroke="#0f0f0f" stroke-width="0.15">1.42000</text>
<text x="908.6" y="143.7" font-size="12" fill="#0f0f0f" font-weight="normal" text-anchor="start" textLength="41.2" lengthAdjust="spacingAndGlyphs"  stroke="#0f0f0f" stroke-width="0.15">1.41000</text>
<text x="908.6" y="175.2" font-size="12" fill="#0f0f0f" font-weight="normal" text-anchor="start" textLength="41.2" lengthAdjust="spacingAndGlyphs"  stroke="#0f0f0f" stroke-width="0.15">1.40000</text>
<text x="908.6" y="206.7" font-size="12" fill="#0f0f0f" font-weight="normal" text-anchor="start" textLength="41.2" lengthAdjust="spacingAndGlyphs"  stroke="#0f0f0f" stroke-width="0.15">1.39000</text>
<text x="908.6" y="238.2" font-size="12" fill="#0f0f0f" font-weight="normal" text-anchor="start" textLength="41.2" lengthAdjust="spacingAndGlyphs"  stroke="#0f0f0f" stroke-width="0.15">1.38000</text>
<text x="908.6" y="269.7" font-size="12" fill="#0f0f0f" font-weight="normal" text-anchor="start" textLength="41.2" lengthAdjust="spacingAndGlyphs"  stroke="#0f0f0f" stroke-width="0.15">1.37000</text>
<text x="908.6" y="301.2" font-size="12" fill="#0f0f0f" font-weight="normal" text-anchor="start" textLength="41.2" lengthAdjust="spacingAndGlyphs"  stroke="#0f0f0f" stroke-width="0.15">1.36000</text>
<text x="908.6" y="332.7" font-size="12" fill="#0f0f0f" font-weight="normal" text-anchor="start" textLength="41.2" lengthAdjust="spacingAndGlyphs"  stroke="#0f0f0f" stroke-width="0.15">1.35000</text>
<text x="908.2" y="427.0" font-size="12" fill="#0f0f0f" font-weight="normal" text-anchor="start" textLength="29.4" lengthAdjust="spacingAndGlyphs"  stroke="#0f0f0f" stroke-width="0.15">40.00</text>
<path d="M900 240.7 H954 Q956 240.7 956 242.7 V255.5 Q956 257.5 954 257.5 H900 Z" fill="#ff7f0e"/>
<text x="908.7" y="253.5" font-size="12" fill="#ffffff" font-weight="normal" text-anchor="start" textLength="41.2" lengthAdjust="spacingAndGlyphs" >1.37620</text>
<path d="M900 224.2 H954 Q956 224.2 956 226.2 V238.9 Q956 240.9 954 240.9 H900 Z" fill="#ffff00"/>
<text x="908.7" y="237.0" font-size="12" fill="#0f0f0f" font-weight="normal" text-anchor="start" textLength="41.2" lengthAdjust="spacingAndGlyphs"  stroke="#0f0f0f" stroke-width="0.15">1.38226</text>
<path d="M900 207.1 H954 Q956 207.1 956 209.1 V222.4 Q956 224.4 954 224.4 H900 Z" fill="#0a800a"/>
<text x="908.7" y="220.2" font-size="12" fill="#ffffff" font-weight="normal" text-anchor="start" textLength="41.2" lengthAdjust="spacingAndGlyphs" >1.38586</text>
<path d="M900 175 H954 Q956 175 956 177 V192 Q956 194 954 194 H900 Z" fill="#f23645"/>
<text x="908.7" y="188.9" font-size="12" fill="#ffffff" font-weight="normal" text-anchor="start" textLength="41.2" lengthAdjust="spacingAndGlyphs" ></text>
<path d="M900 169.8 H954 Q956 169.8 956 171.8 V188.9 Q956 190.9 954 190.9 H900 Z" fill="#0f0f0f"/>
<text x="908.5" y="184.8" font-size="12" fill="#ffffff" font-weight="bold" text-anchor="start" textLength="41.0" lengthAdjust="spacingAndGlyphs" >1.39693</text>
<path d="M880 169.8 H899 V190.7 H880 Q878 190.7 878 188.7 V171.8 Q878 169.8 880 169.8 Z" fill="#0f0f0f"/>
<circle cx="888.5" cy="180.3" r="7.5" fill="none" stroke="#d1d4dc" stroke-width="1.1"/>
<path d="M884.9 180.3 H892.1 M888.5 176.7 V183.9" stroke="#ffffff" stroke-width="1.2" fill="none"/>
<path d="M900 361 H941 Q943 361 943 363 V375.8 Q943 377.8 941 377.8 H900 Z" fill="#7e57c2"/>
<text x="907.9" y="373.8" font-size="12" fill="#ffffff" font-weight="bold" text-anchor="start" textLength="29.7" lengthAdjust="spacingAndGlyphs" >63.84</text>
<path d="M900 377.8 H941 Q943 377.8 943 379.8 V392.8 Q943 394.8 941 394.8 H900 Z" fill="#fdd835"/>
<text x="907.9" y="390.7" font-size="12" fill="#0f0f0f" font-weight="bold" text-anchor="start" textLength="29.7" lengthAdjust="spacingAndGlyphs" >57.29</text>
<circle cx="866.4" cy="329.4" r="9.8" fill="#ffffff" stroke="#f23645" stroke-width="1.4"/>
<clipPath id="u4"><circle cx="866.4" cy="329.4" r="7.9"/></clipPath>
<g clip-path="url(#u4)"><rect x="858.5" y="321.5" width="15.8" height="15.8" fill="#f5f6fa"/><rect x="858.5" y="321.50" width="15.8" height="3.16" fill="#ef5350"/><rect x="858.5" y="327.82" width="15.8" height="3.16" fill="#ef5350"/><rect x="858.5" y="334.14" width="15.8" height="3.16" fill="#ef5350"/><rect x="858.5" y="321.5" width="10.51" height="9.48" fill="#1e88e5"/><circle cx="861.50" cy="324.03" r="0.59" fill="#e3f2fd"/><circle cx="861.50" cy="326.49" r="0.59" fill="#e3f2fd"/><circle cx="861.50" cy="328.96" r="0.59" fill="#e3f2fd"/><circle cx="864.19" cy="324.03" r="0.59" fill="#e3f2fd"/><circle cx="864.19" cy="326.49" r="0.59" fill="#e3f2fd"/><circle cx="864.19" cy="328.96" r="0.59" fill="#e3f2fd"/><circle cx="866.87" cy="324.03" r="0.59" fill="#e3f2fd"/><circle cx="866.87" cy="326.49" r="0.59" fill="#e3f2fd"/><circle cx="866.87" cy="328.96" r="0.59" fill="#e3f2fd"/></g>
<circle cx="853.4" cy="329.4" r="9.8" fill="#ffffff" stroke="#f23645" stroke-width="1.4"/>
<clipPath id="u3"><circle cx="853.4" cy="329.4" r="7.9"/></clipPath>
<g clip-path="url(#u3)"><rect x="845.5" y="321.5" width="15.8" height="15.8" fill="#f5f6fa"/><rect x="845.5" y="321.50" width="15.8" height="3.16" fill="#ef5350"/><rect x="845.5" y="327.82" width="15.8" height="3.16" fill="#ef5350"/><rect x="845.5" y="334.14" width="15.8" height="3.16" fill="#ef5350"/><rect x="845.5" y="321.5" width="10.51" height="9.48" fill="#1e88e5"/><circle cx="848.50" cy="324.03" r="0.59" fill="#e3f2fd"/><circle cx="848.50" cy="326.49" r="0.59" fill="#e3f2fd"/><circle cx="848.50" cy="328.96" r="0.59" fill="#e3f2fd"/><circle cx="851.19" cy="324.03" r="0.59" fill="#e3f2fd"/><circle cx="851.19" cy="326.49" r="0.59" fill="#e3f2fd"/><circle cx="851.19" cy="328.96" r="0.59" fill="#e3f2fd"/><circle cx="853.87" cy="324.03" r="0.59" fill="#e3f2fd"/><circle cx="853.87" cy="326.49" r="0.59" fill="#e3f2fd"/><circle cx="853.87" cy="328.96" r="0.59" fill="#e3f2fd"/></g>
<circle cx="847.5" cy="329.4" r="9.8" fill="#ffffff" stroke="#f23645" stroke-width="1.4"/>
<clipPath id="c2"><circle cx="847.5" cy="329.4" r="7.9"/></clipPath>
<g clip-path="url(#c2)"><rect x="839.6" y="321.5" width="15.8" height="15.8" fill="#f5f6fa"/><rect x="839.60" y="321.5" width="3.48" height="15.8" fill="#ef5350"/><rect x="851.92" y="321.5" width="3.48" height="15.8" fill="#ef5350"/><path d="M847.50 326.24 l1.01 1.74 l1.04 -0.57 l-0.32 1.74 l1.42 0.06 l-1.96 2.37 l-0.95 0 l0 0.95 l-0.51 0 l0 -0.95 l-0.95 0 l-1.96 -2.37 l1.42 -0.06 l-0.32 -1.74 l1.04 0.57 Z" fill="#ef5350"/></g>
<circle cx="835.5" cy="329.4" r="9.8" fill="#ffffff" stroke="#f23645" stroke-width="1.4"/>
<clipPath id="u1"><circle cx="835.5" cy="329.4" r="7.9"/></clipPath>
<g clip-path="url(#u1)"><rect x="827.6" y="321.5" width="15.8" height="15.8" fill="#f5f6fa"/><rect x="827.6" y="321.50" width="15.8" height="3.16" fill="#ef5350"/><rect x="827.6" y="327.82" width="15.8" height="3.16" fill="#ef5350"/><rect x="827.6" y="334.14" width="15.8" height="3.16" fill="#ef5350"/><rect x="827.6" y="321.5" width="10.51" height="9.48" fill="#1e88e5"/><circle cx="830.60" cy="324.03" r="0.59" fill="#e3f2fd"/><circle cx="830.60" cy="326.49" r="0.59" fill="#e3f2fd"/><circle cx="830.60" cy="328.96" r="0.59" fill="#e3f2fd"/><circle cx="833.29" cy="324.03" r="0.59" fill="#e3f2fd"/><circle cx="833.29" cy="326.49" r="0.59" fill="#e3f2fd"/><circle cx="833.29" cy="328.96" r="0.59" fill="#e3f2fd"/><circle cx="835.97" cy="324.03" r="0.59" fill="#e3f2fd"/><circle cx="835.97" cy="326.49" r="0.59" fill="#e3f2fd"/><circle cx="835.97" cy="328.96" r="0.59" fill="#e3f2fd"/></g>
<circle cx="836.5" cy="305.4" r="9.7" fill="#ffffff" stroke="#9c27b0" stroke-width="1.4"/>
<path d="M839.8 300.2 L832.3 305.7 L836.5 306.0 L833.2 310.7 L840.700 305.2 L836.5 304.9 Z" fill="#9c27b0"/>
<circle cx="866" cy="304.8" r="10.15" fill="#ffffff" stroke="#f23645" stroke-width="1.5"/>
<clipPath id="c5"><circle cx="866" cy="304.8" r="7.8"/></clipPath>
<g clip-path="url(#c5)"><rect x="858.2" y="297.0" width="15.6" height="15.6" fill="#f5f6fa"/><rect x="858.20" y="297.0" width="3.43" height="15.6" fill="#ef5350"/><rect x="870.37" y="297.0" width="3.43" height="15.6" fill="#ef5350"/><path d="M866.00 301.68 l1.00 1.72 l1.03 -0.56 l-0.31 1.72 l1.40 0.06 l-1.93 2.34 l-0.94 0 l0 0.94 l-0.50 0 l0 -0.94 l-0.94 0 l-1.93 -2.34 l1.40 -0.06 l-0.31 -1.72 l1.03 0.56 Z" fill="#ef5350"/></g>
<g transform="translate(12.9,428.7) scale(0.83)" stroke="#ffffff" stroke-width="3.5" stroke-linejoin="round" paint-order="stroke" fill="#0f0f0f"><path d="M14 22H7V11H0V4h14v18z"/><path d="M28 22h-8l7.500-18h8L28 22z"/><circle cx="20" cy="8" r="4"/></g>
<g transform="translate(12.9,428.7) scale(0.83)" fill="#0f0f0f"><path d="M14 22H7V11H0V4h14v18zM28 22h-8l7.500-18h8L28 22z"/><circle cx="20" cy="8" r="4"/></g>
<text x="51" y="446.6" font-size="20" fill="#0f0f0f" font-weight="bold" text-anchor="start" textLength="119.2" lengthAdjust="spacingAndGlyphs" stroke="#ffffff" stroke-width="3" stroke-linejoin="round" paint-order="stroke">TradingView</text>
<text x="28.4" y="478.9" font-size="12" fill="#0f0f0f" font-weight="normal" text-anchor="start" textLength="19.7" lengthAdjust="spacingAndGlyphs"  stroke="#0f0f0f" stroke-width="0.15">Apr</text>
<text x="159.8" y="478.9" font-size="12" fill="#0f0f0f" font-weight="normal" text-anchor="start" textLength="20.8" lengthAdjust="spacingAndGlyphs"  stroke="#0f0f0f" stroke-width="0.15">May</text>
<text x="291.6" y="478.9" font-size="12" fill="#0f0f0f" font-weight="normal" text-anchor="start" textLength="20.6" lengthAdjust="spacingAndGlyphs"  stroke="#0f0f0f" stroke-width="0.15">Jun</text>
<text x="419.2" y="478.9" font-size="12" fill="#0f0f0f" font-weight="normal" text-anchor="start" textLength="16.8" lengthAdjust="spacingAndGlyphs"  stroke="#0f0f0f" stroke-width="0.15">Jul</text>
<text x="556.2" y="478.9" font-size="12" fill="#0f0f0f" font-weight="normal" text-anchor="start" textLength="20.2" lengthAdjust="spacingAndGlyphs"  stroke="#0f0f0f" stroke-width="0.15">Aug</text>
<text x="682.5" y="478.9" font-size="12" fill="#0f0f0f" font-weight="normal" text-anchor="start" textLength="20.0" lengthAdjust="spacingAndGlyphs"  stroke="#0f0f0f" stroke-width="0.15">Sep</text>
<text x="814.5" y="478.9" font-size="12" fill="#0f0f0f" font-weight="normal" text-anchor="start" textLength="19.2" lengthAdjust="spacingAndGlyphs"  stroke="#0f0f0f" stroke-width="0.15">Oct</text>
<rect x="603" y="460.800" width="96.2" height="24" rx="2" fill="#0f0f0f"/>
<text x="611.8" y="479.3" font-size="12" fill="#ffffff" font-weight="bold" text-anchor="start" textLength="77.6" lengthAdjust="spacingAndGlyphs" >Thu 21 Aug '25</text>
<path d="M923 475.4 L926.6 469.2 H934.400 L938 475.4 L934.400 481.6 H926.6 Z" fill="none" stroke="#0f0f0f" stroke-width="1.2" stroke-linejoin="round"/>
<circle cx="930.500" cy="475.4" r="2" fill="none" stroke="#0f0f0f" stroke-width="1.2"/>
</svg>
</body></html>
